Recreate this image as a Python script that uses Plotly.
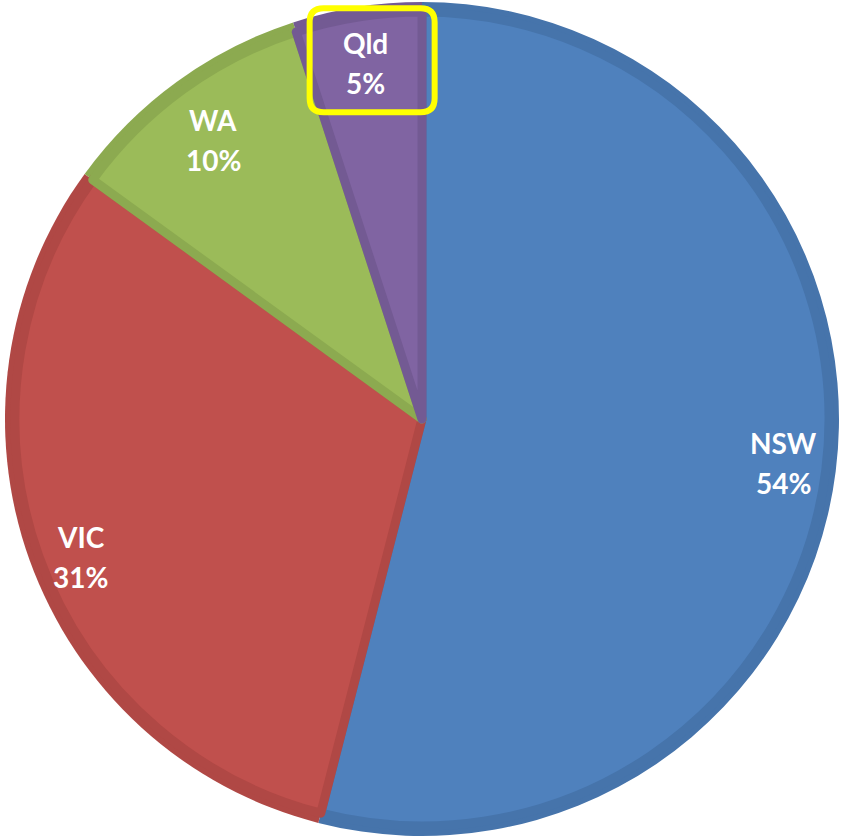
import math
import plotly.graph_objects as go

# ---- data ----
states = ["NSW", "VIC", "WA", "Qld"]
shares = [54, 31, 10, 5]

# ---- styles ----
fill_colors = ["#4F81BD", "#C0504D", "#9BBB59", "#8064A2"]
edge_colors = ["#4674AB", "#B04845", "#8CAA50", "#735A93"]
label_radius = [0.875, 0.882, 0.836, 0.864]
label_nudge = [(0, -2), (5, 13), (-4, 3), (0, 0)]   # pixel nudges (x, y down)

W, H = 846, 837
CX, CY, R = 422, 419, 417   # pie centre / radius in pixels (y downward)
BAND = 10


def dom(cx, cy, r):
    return dict(x=[max(0, (cx - r) / W), min(1, (cx + r) / W)],
                y=[max(0, (H - cy - r) / H), min(1, (H - cy + r) / H)])


fig = go.Figure()
# outer darker layer (gives the edge band along the rim)
fig.add_trace(go.Pie(
    labels=states, values=shares, sort=False, direction="clockwise", rotation=0,
    marker=dict(colors=edge_colors, line=dict(width=0)),
    textinfo="none", hoverinfo="skip", showlegend=False,
    domain=dom(CX, CY, R)))
# inner lighter layer
fig.add_trace(go.Pie(
    labels=states, values=shares, sort=False, direction="clockwise", rotation=0,
    marker=dict(colors=fill_colors, line=dict(width=9, color=edge_colors)),
    textinfo="none", hoverinfo="label+percent", showlegend=False,
    domain=dom(CX, CY, R - BAND)))

total = sum(shares)
cum = 0
annotations = []
shapes = []
for i, (s, v) in enumerate(zip(states, shares)):
    mid = (cum + v / 2) / total * 360
    cum += v
    a = math.radians(mid)
    lx = CX + label_radius[i] * R * math.sin(a) + label_nudge[i][0]
    ly = CY - label_radius[i] * R * math.cos(a) + label_nudge[i][1]
    pct = f"{round(v / total * 100)}%"
    for txt, dy in ((s, -20), (pct, 20)):
        annotations.append(dict(
            x=lx / W, y=1 - (ly + dy) / H, xref="paper", yref="paper",
            text=f"<b>{txt}</b>", showarrow=False, xanchor="center", yanchor="middle",
            font=dict(family="Lato", size=28, color="white")))
    if s == "Qld":
        bx0, bx1 = lx - 56, lx + 69
        by0, by1 = ly - 55, ly + 49
        rr = 14

        def P(x, y):
            return f"{x / W:.5f},{1 - y / H:.5f}"
        path = (f"M {P(bx0 + rr, by0)} L {P(bx1 - rr, by0)} Q {P(bx1, by0)} {P(bx1, by0 + rr)} "
                f"L {P(bx1, by1 - rr)} Q {P(bx1, by1)} {P(bx1 - rr, by1)} "
                f"L {P(bx0 + rr, by1)} Q {P(bx0, by1)} {P(bx0, by1 - rr)} "
                f"L {P(bx0, by0 + rr)} Q {P(bx0, by0)} {P(bx0 + rr, by0)} Z")
        shapes.append(dict(type="path", xref="paper", yref="paper", path=path,
                           line=dict(color="#FFFF00", width=6)))

fig.update_layout(
    width=W, height=H, margin=dict(l=0, r=0, t=0, b=0),
    paper_bgcolor="white", plot_bgcolor="white",
    annotations=annotations, shapes=shapes)

fig.write_html("out.html", config={"displayModeBar": False},
               post_script="document.body.style.margin='0';")
